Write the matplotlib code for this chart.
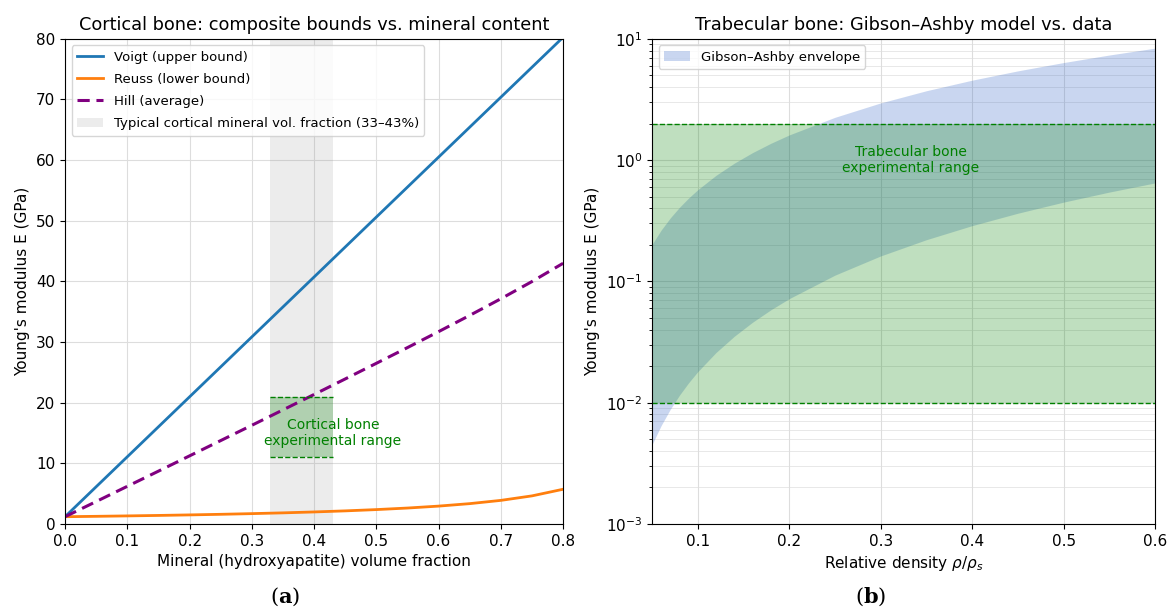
import matplotlib
matplotlib.use("Agg")
import matplotlib.pyplot as plt
from matplotlib.ticker import LogLocator, NullFormatter

# ---- Cortical bone: composite bounds (GPa) vs. mineral volume fraction ----
mineral_fraction = [0.00, 0.05, 0.10, 0.15, 0.20, 0.25, 0.30, 0.35, 0.40,
                    0.45, 0.50, 0.55, 0.60, 0.65, 0.70, 0.75, 0.80]
voigt_E = [1.20, 6.14, 11.08, 16.02, 20.96, 25.90, 30.84, 35.78, 40.72,
           45.66, 50.60, 55.54, 60.48, 65.42, 70.36, 75.30, 80.24]
reuss_E = [1.200, 1.262, 1.332, 1.409, 1.496, 1.594, 1.706, 1.834, 1.984,
           2.161, 2.372, 2.628, 2.947, 3.354, 3.891, 4.633, 5.725]
hill_E = [1.20, 3.70, 6.21, 8.71, 11.23, 13.75, 16.27, 18.81, 21.35,
          23.91, 26.49, 29.08, 31.71, 34.39, 37.13, 39.97, 42.98]
cortical_mineral_range = [0.33, 0.43]
cortical_E_range = [11.0, 21.0]

# ---- Trabecular bone: Gibson-Ashby envelope (GPa) vs. relative density ----
rel_density = [0.05, 0.06, 0.07, 0.08, 0.09, 0.10, 0.12, 0.14, 0.16, 0.18,
               0.20, 0.25, 0.30, 0.35, 0.40, 0.45, 0.50, 0.55, 0.60]
ga_lower = [0.0045, 0.00648, 0.00882, 0.01152, 0.01458, 0.018, 0.02592,
            0.03528, 0.04608, 0.05832, 0.072, 0.1125, 0.162, 0.2205, 0.288,
            0.3645, 0.45, 0.5445, 0.648]
ga_upper = [0.2012, 0.2645, 0.3334, 0.4073, 0.486, 0.5692, 0.7482, 0.9429,
            1.152, 1.3746, 1.61, 2.25, 2.9577, 3.7271, 4.5537, 5.4336,
            6.364, 7.342, 8.3656]
trabecular_E_range = [0.01, 2.0]

plt.rcParams['font.family'] = ['DejaVu Sans']
plt.rcParams['xtick.labelsize'] = 11
plt.rcParams['ytick.labelsize'] = 11

fig = plt.figure(figsize=(11.68, 6.15), dpi=100)
ax1 = fig.add_axes([0.0557, 0.148, 0.4264, 0.789])
ax2 = fig.add_axes([0.5582, 0.148, 0.4307, 0.789])

# Left panel
ax1.axvspan(cortical_mineral_range[0], cortical_mineral_range[1], color='gray',
            alpha=0.15, lw=0,
            label='Typical cortical mineral vol. fraction (33\u201343%)')
ax1.plot(mineral_fraction, voigt_E, color='#1f77b4', lw=2, label='Voigt (upper bound)')
ax1.plot(mineral_fraction, reuss_E, color='#ff7f0e', lw=2, label='Reuss (lower bound)')
ax1.plot(mineral_fraction, hill_E, color='purple', lw=2.2, ls=(0, (4, 2.2)),
         label='Hill (average)')
ax1.fill_between(cortical_mineral_range, cortical_E_range[0], cortical_E_range[1],
                 color='green', alpha=0.25, lw=0)
for yv in cortical_E_range:
    ax1.plot(cortical_mineral_range, [yv, yv], color='green', ls='--', lw=1)
ax1.text(cortical_mineral_range[1], 15.0,
         'Cortical bone\nexperimental range', color='green', fontsize=10,
         ha='center', va='center')
ax1.set_xlim(0, 0.8)
ax1.set_ylim(0, 80)
ax1.set_xlabel('Mineral (hydroxyapatite) volume fraction', fontsize=11)
ax1.set_ylabel("Young's modulus E (GPa)", fontsize=11)
ax1.set_title('Cortical bone: composite bounds vs. mineral content', fontsize=12.8)
ax1.grid(True, color='#dddddd', lw=0.8)
ax1.set_axisbelow(True)
handles, labels = ax1.get_legend_handles_labels()
order = [1, 2, 3, 0]
ax1.legend([handles[i] for i in order], [labels[i] for i in order],
           loc='upper left', fontsize=9.5, labelspacing=0.7)

# Right panel
ax2.set_yscale('log')
ax2.fill_between(rel_density, ga_lower, ga_upper, color='#2a5fc4', alpha=0.25,
                 lw=0, label='Gibson\u2013Ashby envelope')
ax2.axhspan(trabecular_E_range[0], trabecular_E_range[1], color='green',
            alpha=0.25, lw=0)
for yv in trabecular_E_range:
    ax2.axhline(yv, color='green', ls='--', lw=1)
ax2.text(0.333, 1.0, 'Trabecular bone\nexperimental range', color='green',
         fontsize=10, ha='center', va='center')
ax2.set_xlim(0.05, 0.6)
ax2.set_ylim(1e-3, 10)
ax2.set_xticks([0.1, 0.2, 0.3, 0.4, 0.5, 0.6])
ax2.yaxis.set_minor_locator(LogLocator(base=10, subs=range(2, 10), numticks=20))
ax2.yaxis.set_minor_formatter(NullFormatter())
ax2.set_xlabel(r'Relative density $\rho/\rho_s$', fontsize=11)
ax2.set_ylabel("Young's modulus E (GPa)", fontsize=11)
ax2.set_title('Trabecular bone: Gibson\u2013Ashby model vs. data', fontsize=12.8)
ax2.grid(True, which='major', color='#dddddd', lw=0.8)
ax2.grid(True, which='minor', axis='y', color='#dddddd', lw=0.6, alpha=0.8)
ax2.set_axisbelow(True)
ax2.legend(loc='upper left', fontsize=9.5)

# Panel captions
for xc, letter in [(0.244, 'a'), (0.745, 'b')]:
    fig.text(xc, 0.012, r'($\mathbf{%s}$)' % letter, ha='center', va='bottom',
             fontsize=15, family='DejaVu Serif', math_fontfamily='dejavuserif')

fig.savefig('out.png', dpi=100)
